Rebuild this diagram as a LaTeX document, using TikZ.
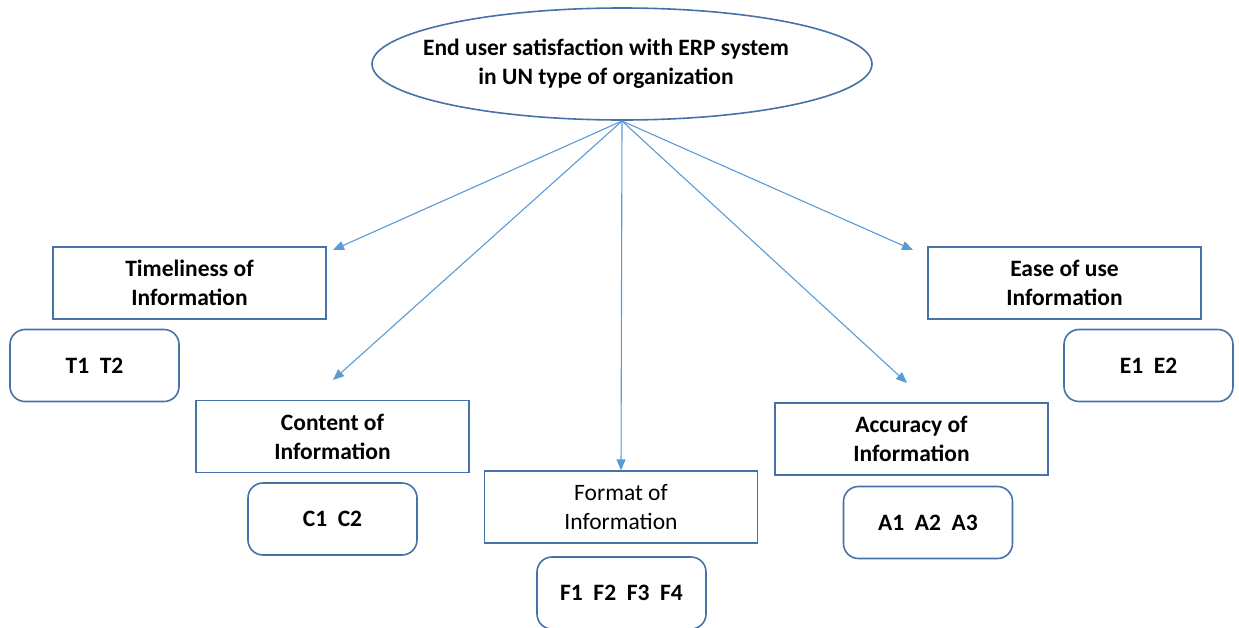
\documentclass[tikz,border=0pt]{standalone}
\usepackage{fontspec}
\setmainfont{Carlito}
\usetikzlibrary{shapes.geometric,arrows.meta}
\definecolor{edge}{RGB}{70,114,168}
\definecolor{link}{RGB}{91,155,213}
\tikzset{
  goal/.style={ellipse, draw=edge, line width=1.6pt, minimum width=500pt, minimum height=112pt,
    inner xsep=-60pt, inner ysep=0pt,
    font=\fontsize{23.5}{29}\selectfont\bfseries, align=center},
  factor/.style={rectangle, draw=edge, line width=1.3pt, minimum width=273pt, minimum height=72pt, inner sep=0pt,
    font=\fontsize{23.5}{29}\selectfont\bfseries, align=center},
  items/.style={rectangle, rounded corners=15pt, draw=edge, line width=1.6pt, minimum width=169pt, minimum height=72pt,
    inner sep=0pt, font=\fontsize{23.5}{29}\selectfont\bfseries},
  link/.style={draw=link, line width=1.1pt, -{Triangle[length=11pt,width=9pt]}}
}
\begin{document}
\begin{tikzpicture}[x=1pt,y=-1pt]
\useasboundingbox (0,0) rectangle (1239,627);
% title text sits a little left of the ellipse centre
\node[goal] (top) at (622,64) {End user satisfaction with ERP system\hspace*{32pt}\\in UN type of organization\hspace*{32pt}};

\node[factor] (time) at (189.5,283) {Timeliness of\\Information};
\node[items] (t) at (94.5,365.5) {T1\ \ T2};
\node[factor] (cont) at (332.5,436.5) {Content of\\Information};
\node[items] (c) at (332.5,519) {C1\ \ C2};
\node[factor, font=\fontsize{23.5}{29}\selectfont] (form) at (621,507) {Format of\\Information};
\node[items] (f) at (621.5,593) {F1\ \ F2\ \ F3\ \ F4};
\node[factor] (acc) at (911.5,439) {Accuracy of\\Information};
\node[items] (a) at (928,522.5) {A1\ \ A2\ \ A3};
\node[factor] (ease) at (1064.5,283) {Ease of use\\Information};
\node[items] (e) at (1148.5,365.5) {E1\ \ E2};

\coordinate (hub) at (622,121);
\coordinate (toTime) at (333,250);
\coordinate (toCont) at (333,380);
\coordinate (toAcc) at (907,383);
\coordinate (toEase) at (913,250);

\draw[link] (hub) -- (toTime);
\draw[link] (hub) -- (toCont);
\draw[link] (hub) -- (form.north);
\draw[link] (hub) -- (toAcc);
\draw[link] (hub) -- (toEase);
\end{tikzpicture}
\end{document}
